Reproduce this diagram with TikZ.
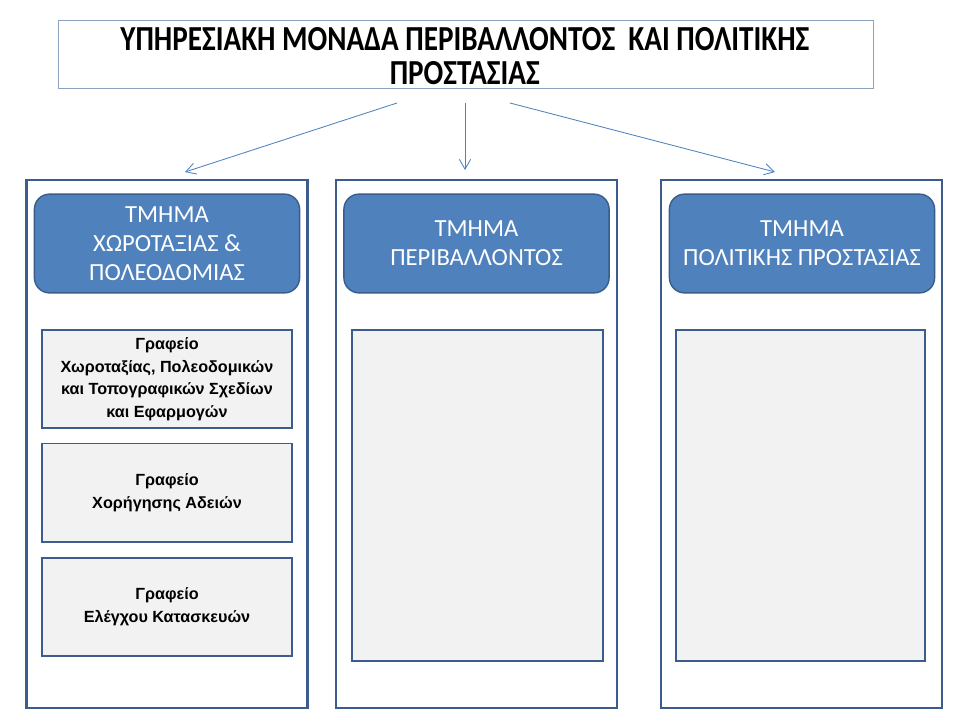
\documentclass[tikz,border=0pt]{standalone}
\usepackage{fontspec}
\setmainfont{Carlito}
\newfontfamily\officefont{Liberation Sans}
\newfontfamily\unitfont{Carlito}[FakeStretch=0.83]
\usepackage{tikz}
\usetikzlibrary{arrows.meta}
\definecolor{hdrblue}{HTML}{4F81BD}
\definecolor{hdrline}{HTML}{385D8A}
\definecolor{colline}{HTML}{3B5C8C}
\definecolor{boxgray}{HTML}{F2F2F2}
\definecolor{titleline}{HTML}{8DA2C0}
\tikzset{>={Straight Barb[length=7pt,width=8pt]}}
\tikzset{
  titlebox/.style={draw=titleline, line width=0.6pt, minimum width=20.375cm, minimum height=1.7cm},
  titletext/.style={align=center, font=\unitfont\bfseries\fontsize{25}{24}\selectfont},
  column/.style={draw=colline, line width=1.7pt, minimum width=7.03cm, minimum height=13.2cm},
  header/.style={draw=hdrline, line width=1pt, fill=hdrblue, rounded corners=0.38cm, minimum width=6.63cm, minimum height=2.47cm, align=center, text=white, font=\fontsize{17.5}{20.6}\selectfont},
  office/.style={draw=colline, line width=1.4pt, fill=boxgray, minimum width=6.25cm, minimum height=2.45cm, align=center, font=\officefont\bfseries\fontsize{11.5}{16}\selectfont},
  link/.style={->, draw=hdrblue, line width=0.6pt}
}
\begin{document}
\begin{tikzpicture}
      \useasboundingbox (0, 0) rectangle (24, -18);
      \node[titlebox] (unit) at (11.64, -1.35) {};
      \node[titletext] (unitname) at (11.62, -1.4) {ΥΠΗΡΕΣΙΑΚΗ ΜΟΝΑΔΑ ΠΕΡΙΒΑΛΛΟΝΤΟΣ \ ΚΑΙ ΠΟΛΙΤΙΚΗΣ\\ΠΡΟΣΤΑΣΙΑΣ};
      \node[column] (colA) at (4.175, -11.1) {};
      \node[column] (colB) at (11.9125, -11.1) {};
      \node[column] (colC) at (20.0375, -11.1) {};
      \node[header] (dptA) at (4.175, -6.0875) {ΤΜΗΜΑ\\ΧΩΡΟΤΑΞΙΑΣ \&\\ΠΟΛΕΟΔΟΜΙΑΣ};
      \node[header] (dptB) at (11.9125, -6.0875) {ΤΜΗΜΑ\\ΠΕΡΙΒΑΛΛΟΝΤΟΣ};
      \node[header] (dptC) at (20.05, -6.0875) {ΤΜΗΜΑ\\ΠΟΛΙΤΙΚΗΣ ΠΡΟΣΤΑΣΙΑΣ};
      \node[office] (offA1) at (4.175, -9.475) {Γραφείο\\Χωροταξίας, Πολεοδομικών\\και Τοπογραφικών Σχεδίων\\και Εφαρμογών};
      \node[office] (offA2) at (4.175, -12.3125) {Γραφείο\\Χορήγησης Αδειών};
      \node[office] (offA3) at (4.175, -15.1625) {Γραφείο\\Ελέγχου Κατασκευών};
      \node[office, minimum width=6.275cm, minimum height=8.275cm] (offB) at (11.9375, -12.3875) {};
      \node[office, minimum width=6.225cm, minimum height=8.275cm] (offC) at (20.0125, -12.3875) {};
      \coordinate (fromA) at (9.925, -2.575);
      \coordinate (fromB) at (11.625, -2.575);
      \coordinate (fromC) at (12.75, -2.575);
      \coordinate (toA) at (4.625, -4.3);
      \coordinate (toB) at (11.625, -4.25);
      \coordinate (toC) at (19.375, -4.3);
      \draw[link] (fromA) to (toA);
      \draw[link] (fromB) to (toB);
      \draw[link] (fromC) to (toC);
    \end{tikzpicture}
\end{document}
